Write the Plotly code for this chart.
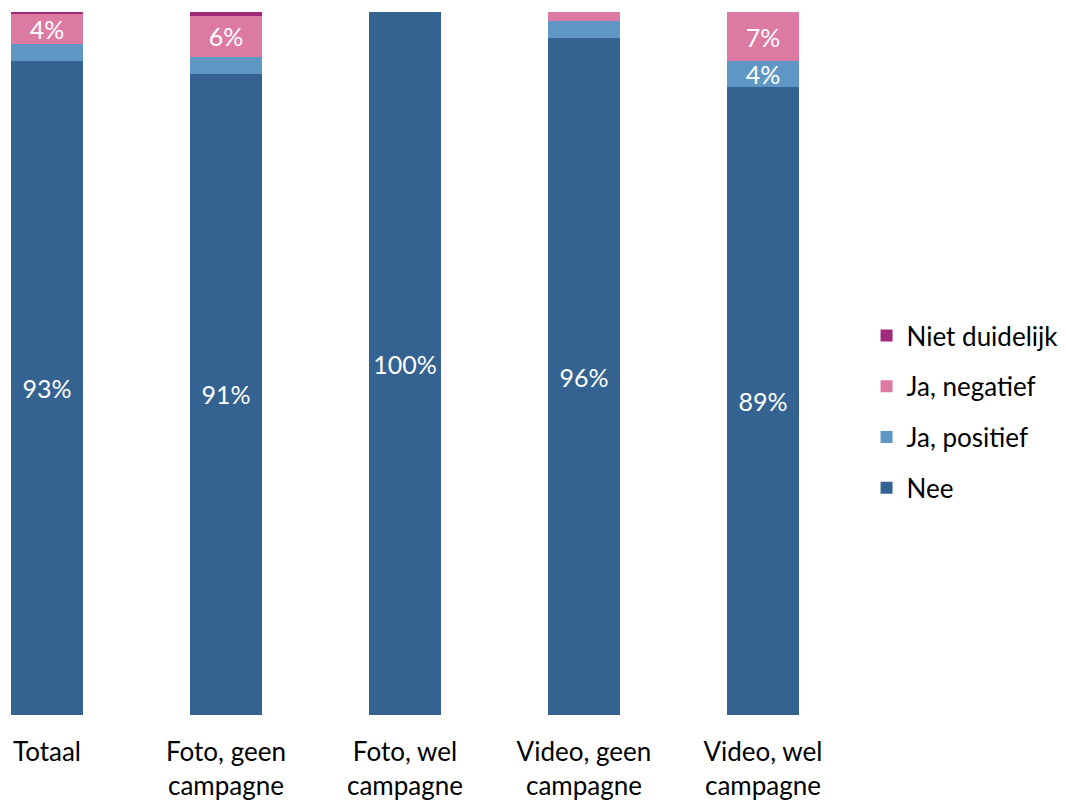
import plotly.graph_objects as go

categories = ["Totaal", "Foto, geen<br>campagne", "Foto, wel<br>campagne",
              "Video, geen<br>campagne", "Video, wel<br>campagne"]
nee = [93.1, 91.2, 100.0, 96.3, 89.4]
ja_positief = [2.3, 2.4, 0.0, 2.4, 3.6]
ja_negatief = [4.4, 5.9, 0.0, 1.3, 7.0]
niet_duidelijk = [0.25, 0.5, 0.0, 0.0, 0.0]

series = [
    ("Nee", nee, "#346291"),
    ("Ja, positief", ja_positief, "#5F97C4"),
    ("Ja, negatief", ja_negatief, "#DC7AA2"),
    ("Niet duidelijk", niet_duidelijk, "#A0297A"),
]

FONT = "Lato, 'Open Sans', sans-serif"

fig = go.Figure()
for i, (name, vals, color) in enumerate(series):
    texts = [f"{round(v)}%" if v >= 3.5 else "" for v in vals]
    fig.add_trace(go.Bar(
        x=categories, y=vals, name=name, marker=dict(color=color, line=dict(width=0)),
        text=texts, textposition="inside", insidetextanchor="middle",
        constraintext="none",
        textfont=dict(color="white", size=25, family=FONT),
        legendgroup=name,
        legendrank=len(series) - i,
        hoverinfo="skip",
    ))

fig.update_layout(
    barmode="stack",
    bargap=0.598,
    width=1066, height=801,
    margin=dict(l=0, r=216, t=4, b=94, autoexpand=False),
    paper_bgcolor="white", plot_bgcolor="white",
    font=dict(family=FONT, size=26, color="black"),
    showlegend=True,
    legend=dict(
        traceorder="grouped", tracegroupgap=14,
        x=0.8054, xref="container", xanchor="left",
        y=0.431, yanchor="middle",
        font=dict(size=26, family=FONT, color="black"),
        bgcolor="rgba(0,0,0,0)",
    ),
    xaxis=dict(range=[-0.2179, 4.531], showline=False, showgrid=False, zeroline=False,
               automargin=False,
               ticks="outside", ticklen=14, tickcolor="rgba(0,0,0,0)",
               tickfont=dict(size=26, family=FONT, color="black")),
    yaxis=dict(range=[0, 100], visible=False, showgrid=False, zeroline=False,
               automargin=False),
)

fig.write_html("out.html")
